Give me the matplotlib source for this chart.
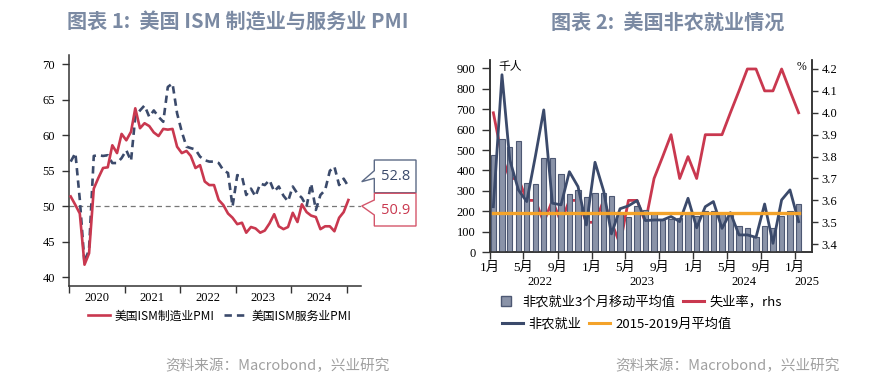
import numpy as np
import pandas as pd
import matplotlib
matplotlib.use('Agg')
import matplotlib.pyplot as plt
import matplotlib.dates as mdates
from matplotlib.patches import Polygon
from matplotlib.lines import Line2D

plt.rcParams['font.family'] = ['Liberation Serif', 'Noto Sans CJK SC']
plt.rcParams['axes.unicode_minus'] = False

"""Chart 1 data: ISM PMI, Jan 2020 - Jan 2025"""
pmi_months = pd.date_range('2020-01-01', '2025-01-01', freq='MS')
ism_mfg = [51.4, 50.2, 49.0, 41.8, 43.4, 52.5, 54.0, 55.4, 55.5, 58.6, 57.5, 60.2,
           59.3, 60.5, 63.8, 61.0, 61.7, 61.3, 60.4, 59.9, 60.9, 60.8, 60.9, 58.4,
           57.5, 57.8, 57.1, 55.4, 55.8, 53.5, 53.0, 53.0, 50.9, 50.2, 49.0, 48.4,
           47.5, 47.7, 46.3, 47.1, 46.9, 46.3, 46.6, 47.6, 48.9, 47.2, 46.8, 47.1,
           49.1, 47.8, 50.3, 49.2, 48.7, 48.5, 46.8, 47.2, 47.2, 46.5, 48.4, 49.2,
           50.9]
ism_svc = [56.3, 57.5, 51.0, 42.0, 44.0, 57.1, 57.2, 57.1, 57.2, 56.1, 56.1, 56.8,
           57.9, 56.4, 62.6, 63.5, 64.2, 62.6, 63.5, 62.6, 61.9, 66.8, 67.3, 63.1,
           60.5, 58.4, 58.2, 58.0, 57.0, 56.5, 56.3, 56.3, 56.1, 55.1, 54.7, 50.0,
           54.4, 54.2, 51.6, 52.5, 51.4, 53.2, 53.0, 53.7, 52.1, 52.8, 51.5, 50.7,
           52.8, 51.8, 51.2, 50.0, 53.2, 49.5, 51.6, 52.3, 55.0, 55.6, 53.0, 53.9,
           52.8]
pmi_years = ['2020', '2021', '2022', '2023', '2024']

"""Chart 2 data: payrolls (thousands) and unemployment rate, Jan 2022 - Jan 2025"""
nfp_months = pd.date_range('2022-01-01', '2025-01-01', freq='MS')
nfp_3m = [476, 553, 517, 546, 338, 333, 463, 460, 383, 285, 305, 272,
          289, 288, 277, 191, 174, 228, 207, 191, 157, 164, 168, 190,
          178, 200, 200, 190, 183, 129, 117, 75, 129, 118, 178, 202,
          235]
nfp = [223, 868, 452, 305, 248, 470, 696, 240, 232, 394, 321, 134,
       440, 300, 90, 213, 227, 253, 155, 158, 158, 175, 150, 264,
       120, 223, 248, 117, 194, 85, 85, 73, 236, 44, 256, 305,
       150]
unemp = [4.0, 3.8, 3.7, 3.7, 3.6, 3.6, 3.5, 3.6, 3.5, 3.6, 3.6, 3.5,
         3.5, 3.6, 3.5, 3.4, 3.6, 3.6, 3.5, 3.7, 3.8, 3.9, 3.7, 3.8,
         3.7, 3.9, 3.9, 3.9, 4.0, 4.1, 4.2, 4.2, 4.1, 4.1, 4.2, 4.1,
         4.0]
avg_2015_2019 = 190
nfp_years = ['2022', '2023', '2024', '2025']
month_labels = ['1月', '5月', '9月']

RED = '#c9384f'
NAVY = '#3b4a6b'
BAR = '#8a93a8'
BAR_EDGE = '#4d5873'
ORANGE = '#f4a32a'
TITLE = '#7b8aa3'
W, H = 874, 384

fig = plt.figure(figsize=(W / 100, H / 100), dpi=100)

def px(x, y):
    return (x / W, 1 - y / H)

# ---------------- left chart ----------------
ax1 = fig.add_axes([69 / W, 1 - 286 / H, (361 - 69) / W, (286 - 55) / H])
x1 = pmi_months + pd.Timedelta(days=11)
ax1.axhline(50, color='#777777', lw=0.9, ls=(0, (4, 3)), zorder=1)
ax1.plot(x1, ism_mfg, color=RED, lw=1.9, zorder=3)
ax1.plot(x1, ism_svc, color=NAVY, lw=1.9, ls=(0, (2.8, 1.9)), zorder=2)
ax1.set_ylim(38.8, 71.3)
ax1.set_xlim(pd.Timestamp('2020-01-01'), pd.Timestamp('2025-04-05'))
ax1.set_yticks(range(40, 71, 5))
ax1.xaxis.set_major_locator(mdates.YearLocator())
ax1.xaxis.set_major_formatter(plt.NullFormatter())
ax1.set_xticks([pd.Timestamp(y + '-07-01') for y in pmi_years], minor=True)
ax1.set_xticklabels(pmi_years, minor=True)
ax1.tick_params(axis='x', which='major', length=5, width=1, color='#333333')
ax1.tick_params(axis='x', which='minor', length=0, pad=4, labelsize=9)
ax1.tick_params(axis='y', length=5, width=1, pad=5, labelsize=9, color='#333333')
for s in ['top', 'right']:
    ax1.spines[s].set_visible(False)
for s in ['left', 'bottom']:
    ax1.spines[s].set_color('#333333')
    ax1.spines[s].set_linewidth(1.1)

# callout boxes with last values
box_svc = Polygon([px(374.3, 160), px(416, 160), px(416, 192.7), px(374.3, 192.7),
                   px(374.3, 178.3), px(361.7, 181.7), px(374.3, 170.7)],
                  closed=True, transform=fig.transFigure, fc='white', ec='#5c6a86', lw=1)
box_mfg = Polygon([px(374.3, 193.3), px(416, 193.3), px(416, 226), px(374.3, 226),
                   px(374.3, 215), px(361.7, 206), px(374.3, 200)],
                  closed=True, transform=fig.transFigure, fc='white', ec='#d4566b', lw=1)
fig.add_artist(box_svc)
fig.add_artist(box_mfg)
fig.text(*px(395.5, 177), f'{ism_svc[-1]:.1f}', color=NAVY, fontsize=10.5,
         family='Open Sans', ha='center', va='center')
fig.text(*px(395.5, 210), f'{ism_mfg[-1]:.1f}', color=RED, fontsize=10.5,
         family='Open Sans', ha='center', va='center')

h1 = [Line2D([], [], color=RED, lw=1.9), Line2D([], [], color=NAVY, lw=1.9, ls=(0, (2.8, 1.9)))]
fig.legend(h1, ['美国ISM制造业PMI', '美国ISM服务业PMI'], loc='center left',
           bbox_to_anchor=px(77, 316), ncol=2, frameon=False, handlelength=1.9,
           handletextpad=0.4, columnspacing=0.8, prop={'family': 'Noto Sans CJK SC', 'size': 8.5})

# ---------------- right chart ----------------
ax2 = fig.add_axes([490 / W, 1 - 252.3 / H, (811.7 - 490) / W, (252.3 - 60) / H])
ax3 = ax2.twinx()
x2 = nfp_months + pd.Timedelta(days=12)
ax2.bar(x2, nfp_3m, width=19, color=BAR, edgecolor=BAR_EDGE, lw=0.8, zorder=1)
ax2.plot(x2, nfp, color=NAVY, lw=2.0, zorder=3)
ax2.plot([x2[0], x2[-1]], [avg_2015_2019, avg_2015_2019], color=ORANGE, lw=2.4, zorder=4)
ax3.plot(x2, unemp, color=RED, lw=2.0, zorder=2)
ax2.set_zorder(ax3.get_zorder() + 1)
ax2.patch.set_visible(False)

ax2.set_ylim(0, 940)
ax2.set_yticks(range(0, 901, 100))
ax3.set_ylim(3.363, 4.241)
ax3.set_yticks(np.arange(3.4, 4.21, 0.1))
ax3.yaxis.set_major_formatter(plt.FormatStrFormatter('%.1f'))
ax2.set_xlim(pd.Timestamp('2022-01-01'), pd.Timestamp('2025-03-01'))
ticks = pd.date_range('2022-01-01', '2025-01-01', freq='4MS')
ax2.set_xticks(ticks)
ax2.set_xticklabels([month_labels[i % 3] for i in range(len(ticks))])
ax2.tick_params(axis='x', length=5, width=1, pad=2, labelsize=9.5, color='#333333')
ax2.tick_params(axis='y', length=5.5, width=1, pad=5, labelsize=9, color='#333333')
ax3.tick_params(axis='y', length=4, width=1, pad=3, labelsize=9, color='#333333')
for a in (ax2, ax3):
    a.spines['top'].set_visible(False)
    for s in ['left', 'right', 'bottom']:
        a.spines[s].set_color('#333333')
        a.spines[s].set_linewidth(1.1)
for y, d in zip(nfp_years, ['2022-07-01', '2023-07-01', '2024-07-01', '2025-02-12']):
    ax2.text(pd.Timestamp(d), -0.155, y, transform=ax2.get_xaxis_transform(),
             ha='center', va='center', fontsize=9)
ax2.text(0.062, 0.965, '千人', transform=ax2.transAxes, ha='center', va='center',
         fontsize=8.5, family='Noto Sans CJK SC')
ax2.text(0.969, 0.965, '%', transform=ax2.transAxes, ha='center', va='center', fontsize=8.5)

h_a = [Line2D([], [], marker='s', ls='none', ms=7, mfc=BAR, mec=BAR_EDGE), Line2D([], [], color=RED, lw=2.2)]
h_b = [Line2D([], [], color=NAVY, lw=2.2), Line2D([], [], color=ORANGE, lw=2.2)]
fig.legend(h_a, ['非农就业3个月移动平均值', '失业率，rhs'], loc='center left',
           bbox_to_anchor=px(484, 302), ncol=2, frameon=False, handlelength=1.6,
           handletextpad=0.4, columnspacing=0.6, prop={'family': 'Noto Sans CJK SC', 'size': 9.5})
fig.legend(h_b, ['非农就业', '2015-2019月平均值'], loc='center left',
           bbox_to_anchor=px(490, 324), ncol=2, frameon=False, handlelength=1.6,
           handletextpad=0.4, columnspacing=0.6, prop={'family': 'Noto Sans CJK SC', 'size': 9.5})

# ---------------- titles and sources ----------------
fig.text(*px(67, 22), '图表 1:  美国 ISM 制造业与服务业 PMI', color=TITLE, fontsize=14.5,
         family='Noto Sans CJK SC', weight='bold', ha='left', va='center')
fig.text(*px(551, 22), '图表 2:  美国非农就业情况', color=TITLE, fontsize=14.5,
         family='Noto Sans CJK SC', weight='bold', ha='left', va='center')
fig.text(*px(390, 366), '资料来源：Macrobond，兴业研究', color='#a0a0a0', fontsize=10.5,
         family='Noto Sans CJK SC', ha='right', va='center')
fig.text(*px(840, 366), '资料来源：Macrobond，兴业研究', color='#a0a0a0', fontsize=10.5,
         family='Noto Sans CJK SC', ha='right', va='center')

fig.savefig('out.png', dpi=100)
